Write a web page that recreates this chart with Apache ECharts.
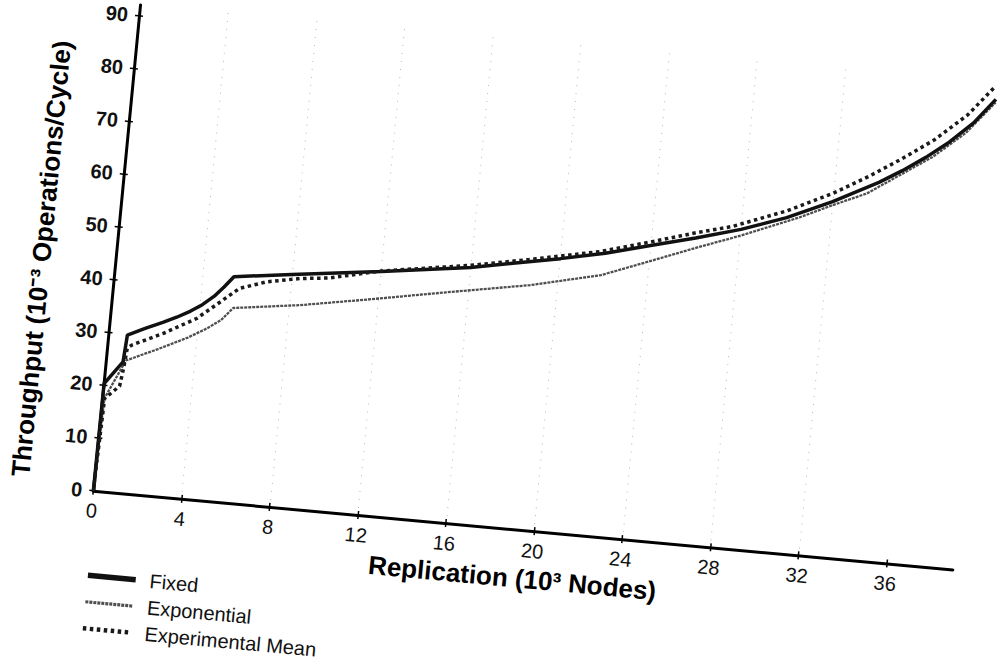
<!DOCTYPE html>
<html><head><meta charset="utf-8">
<script src="https://cdn.jsdelivr.net/npm/echarts@6/dist/echarts.min.js"></script>
<style>
html,body{margin:0;padding:0;background:#fff;overflow:hidden;}
#wrap{position:relative;width:997px;height:667px;overflow:hidden;background:#fff;}
#chart{position:absolute;left:0;top:0;width:1000px;height:720px;transform-origin:0 0;
 transform:matrix(0.99593,0.09128,-0.09578,0.99548,25.32,-55.82);}
</style></head><body><div id="wrap"><div id="chart"></div></div>
<script>
// ---- data ----
const xTickValues = [0, 4, 8, 12, 16, 20, 24, 28, 32, 36];
const yTickValues = [0, 10, 20, 30, 40, 50, 60, 70, 80, 90];
const seriesNames = ['Fixed', 'Exponential', 'Experimental Mean'];

const fixedX = [0, 0.02, 0.78, 0.86, 1.6, 2.4, 3.0, 3.6, 4.1, 4.6, 5.0, 5.4, 8, 12, 16, 18, 20, 22, 24, 26, 28, 30, 32, 34, 35, 36, 37, 38, 38.9];
const fixedY = [0, 20.3, 24.7, 29.8, 31.3, 32.8, 34.0, 35.4, 36.8, 38.6, 40.5, 42.6, 44.0, 46.1, 48.4, 50.0, 51.6, 53.4, 55.6, 57.8, 60.2, 63.2, 67.0, 71.4, 74.0, 76.9, 80.2, 84.2, 89.0];

const expoX = [0, 0.1, 0.9, 2.3, 3.6, 4.4, 5.0, 5.5, 8.5, 11.5, 15, 18.75, 21.9, 24, 26.2, 28, 30.6, 32, 33.5, 34.9, 36.3, 37.7, 38.9];
const expoY = [0, 17.5, 25.0, 27.7, 30.4, 32.4, 34.2, 36.7, 38.4, 40.6, 43.3, 46.1, 49.2, 52.6, 56.2, 59.0, 63.5, 66.3, 69.1, 73.1, 77.1, 82.2, 88.4];

const meanX = [0, 0.11, 0.73, 0.84, 0.91, 1.1, 2.47, 3.9, 5.0, 5.7, 6.9, 8.4, 9.7, 12, 16, 18.6, 21.75, 24, 26, 27.6, 30, 32, 33.5, 34.85, 36.3, 37.7, 38.8];
const meanY = [0, 17.5, 20.1, 23.8, 27.3, 28.0, 30.75, 34.1, 38.0, 40.5, 42.2, 43.4, 44.0, 46.2, 48.8, 50.9, 53.6, 56.3, 58.8, 60.6, 64.5, 68.6, 72.3, 76.0, 80.3, 85.6, 91.3];

const xMax = 39, yMax = 92;
// ----------------------------------------
const zip = (xs, ys) => xs.map((x, i) => [x, ys[i]]);
const FONT = "'Liberation Sans', Arial, Helvetica, sans-serif";

const fixedLine = {color: '#111', width: 3.5};
const expoLine = {color: '#4f4f4f', width: 2.3, type: [3, 1]};
const meanLine = {color: '#1a1a1a', width: 3.5, type: [3.5, 3.5], cap: 'butt'};

const chart = echarts.init(document.getElementById('chart'), null, {renderer: 'svg'});
chart.setOption({
  animation: false,
  backgroundColor: 'transparent',
  grid: {left: 120, top: 50, width: 863.1, height: 488, containLabel: false, outerBoundsMode: 'none'},
  legend: {
    orient: 'vertical', left: 120, top: 610.7, padding: 0,
    itemWidth: 48, itemHeight: 14, itemGap: 2.6,
    itemStyle: {opacity: 0},
    data: [
      {name: seriesNames[0], lineStyle: {width: 5.5}},
      {name: seriesNames[1], lineStyle: {width: 3.2}},
      {name: seriesNames[2], lineStyle: {width: 4.5}}
    ],
    textStyle: {fontFamily: FONT, fontSize: 20, color: '#111', lineHeight: 16, padding: [8, 0, 0, 9]}
  },
  xAxis: [{
    type: 'value', min: 0, max: xMax, interval: 4, position: 'bottom',
    name: 'Replication (10³ Nodes)', nameLocation: 'middle', nameGap: 35.7,
    nameTextStyle: {fontFamily: FONT, fontSize: 26, fontWeight: 'bold', color: '#000', padding: [0, 12.6, 0, 0]},
    axisLine: {show: true, lineStyle: {color: '#000', width: 3}},
    axisTick: {show: true, length: 4, customValues: xTickValues, lineStyle: {color: '#000', width: 1.5}},
    axisLabel: {margin: 10, customValues: xTickValues, fontFamily: FONT, fontSize: 20, color: '#111'},
    splitLine: {show: true, showMinLine: false, showMaxLine: false, lineStyle: {color: '#b5b5b5', width: 1, type: [1, 7]}}
  }, {
    type: 'value', min: 0, max: xMax, interval: 4, position: 'bottom',
    axisLine: {show: false},
    axisTick: {show: true, inside: true, length: 4, customValues: xTickValues, lineStyle: {color: '#000', width: 1.5}},
    axisLabel: {show: false}, splitLine: {show: false}
  }],
  yAxis: [{
    type: 'value', min: 0, max: yMax, interval: 10, position: 'left',
    name: 'Throughput (10⁻³ Operations/Cycle)', nameLocation: 'middle', nameGap: 61,
    nameTextStyle: {fontFamily: FONT, fontSize: 26, fontWeight: 'bold', color: '#000', padding: [0, 35, 0, 0]},
    axisLine: {show: true, lineStyle: {color: '#000', width: 3}},
    axisTick: {show: true, length: 4, customValues: yTickValues, lineStyle: {color: '#000', width: 1.5}},
    axisLabel: {margin: 11, customValues: yTickValues, fontFamily: FONT, fontSize: 20, fontWeight: 'bold', color: '#111'},
    splitLine: {show: false}
  }, {
    type: 'value', min: 0, max: yMax, interval: 10, position: 'left',
    axisLine: {show: false},
    axisTick: {show: true, inside: true, length: 4, customValues: yTickValues, lineStyle: {color: '#000', width: 1.5}},
    axisLabel: {show: false}, splitLine: {show: false}
  }],
  series: [{
    name: seriesNames[0], type: 'line', data: zip(fixedX, fixedY), symbol: 'none', z: 3,
    lineStyle: fixedLine, itemStyle: {color: fixedLine.color}
  }, {
    name: seriesNames[1], type: 'line', data: zip(expoX, expoY), symbol: 'none', z: 2,
    lineStyle: expoLine, itemStyle: {color: expoLine.color}
  }, {
    name: seriesNames[2], type: 'line', data: zip(meanX, meanY), symbol: 'none', z: 4,
    lineStyle: meanLine, itemStyle: {color: meanLine.color}
  }]
});
</script></body></html>
